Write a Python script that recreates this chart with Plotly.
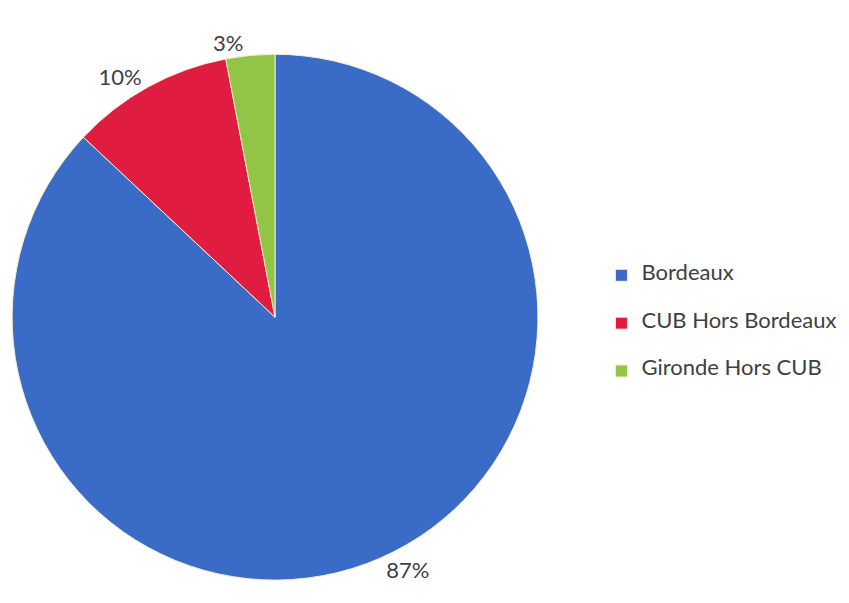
import plotly.graph_objects as go

labels = ["Bordeaux", "CUB Hors Bordeaux", "Gironde Hors CUB"]
values = [87, 10, 3]
colors = ["#3a6bc6", "#e01c40", "#92c446"]

# pad each legend entry with blank lines so the rows are spaced like the original
legend_names = [" <br><span style='font-size:22px'>%s</span><br> " % l for l in labels]

fig = go.Figure()

fig.add_trace(go.Pie(
    labels=legend_names,
    values=values,
    customdata=labels,
    hovertemplate="%{customdata}: %{percent}<extra></extra>",
    sort=False,
    direction="clockwise",
    rotation=0,
    marker=dict(colors=colors, line=dict(color="#f2eecf", width=1)),
    textinfo="percent",
    texttemplate="%{percent:.0%}",
    textposition="outside",
    textfont=dict(size=22, color="#3c4141"),
    domain=dict(x=[0.0047, 0.6243], y=[0.0513, 0.9233]),
    showlegend=True,
))

fig.update_layout(
    width=849, height=603,
    margin=dict(l=0, r=0, t=0, b=0),
    paper_bgcolor="white",
    plot_bgcolor="white",
    font=dict(family="Lato, Open Sans, sans-serif", size=20, color="#3c4141"),
    legend=dict(
        x=0.699, y=0.477, xanchor="left", yanchor="middle",
        font=dict(size=11.5, color="#3c4141"),
        itemwidth=30,
    ),
)

fig.write_html("out.html")
